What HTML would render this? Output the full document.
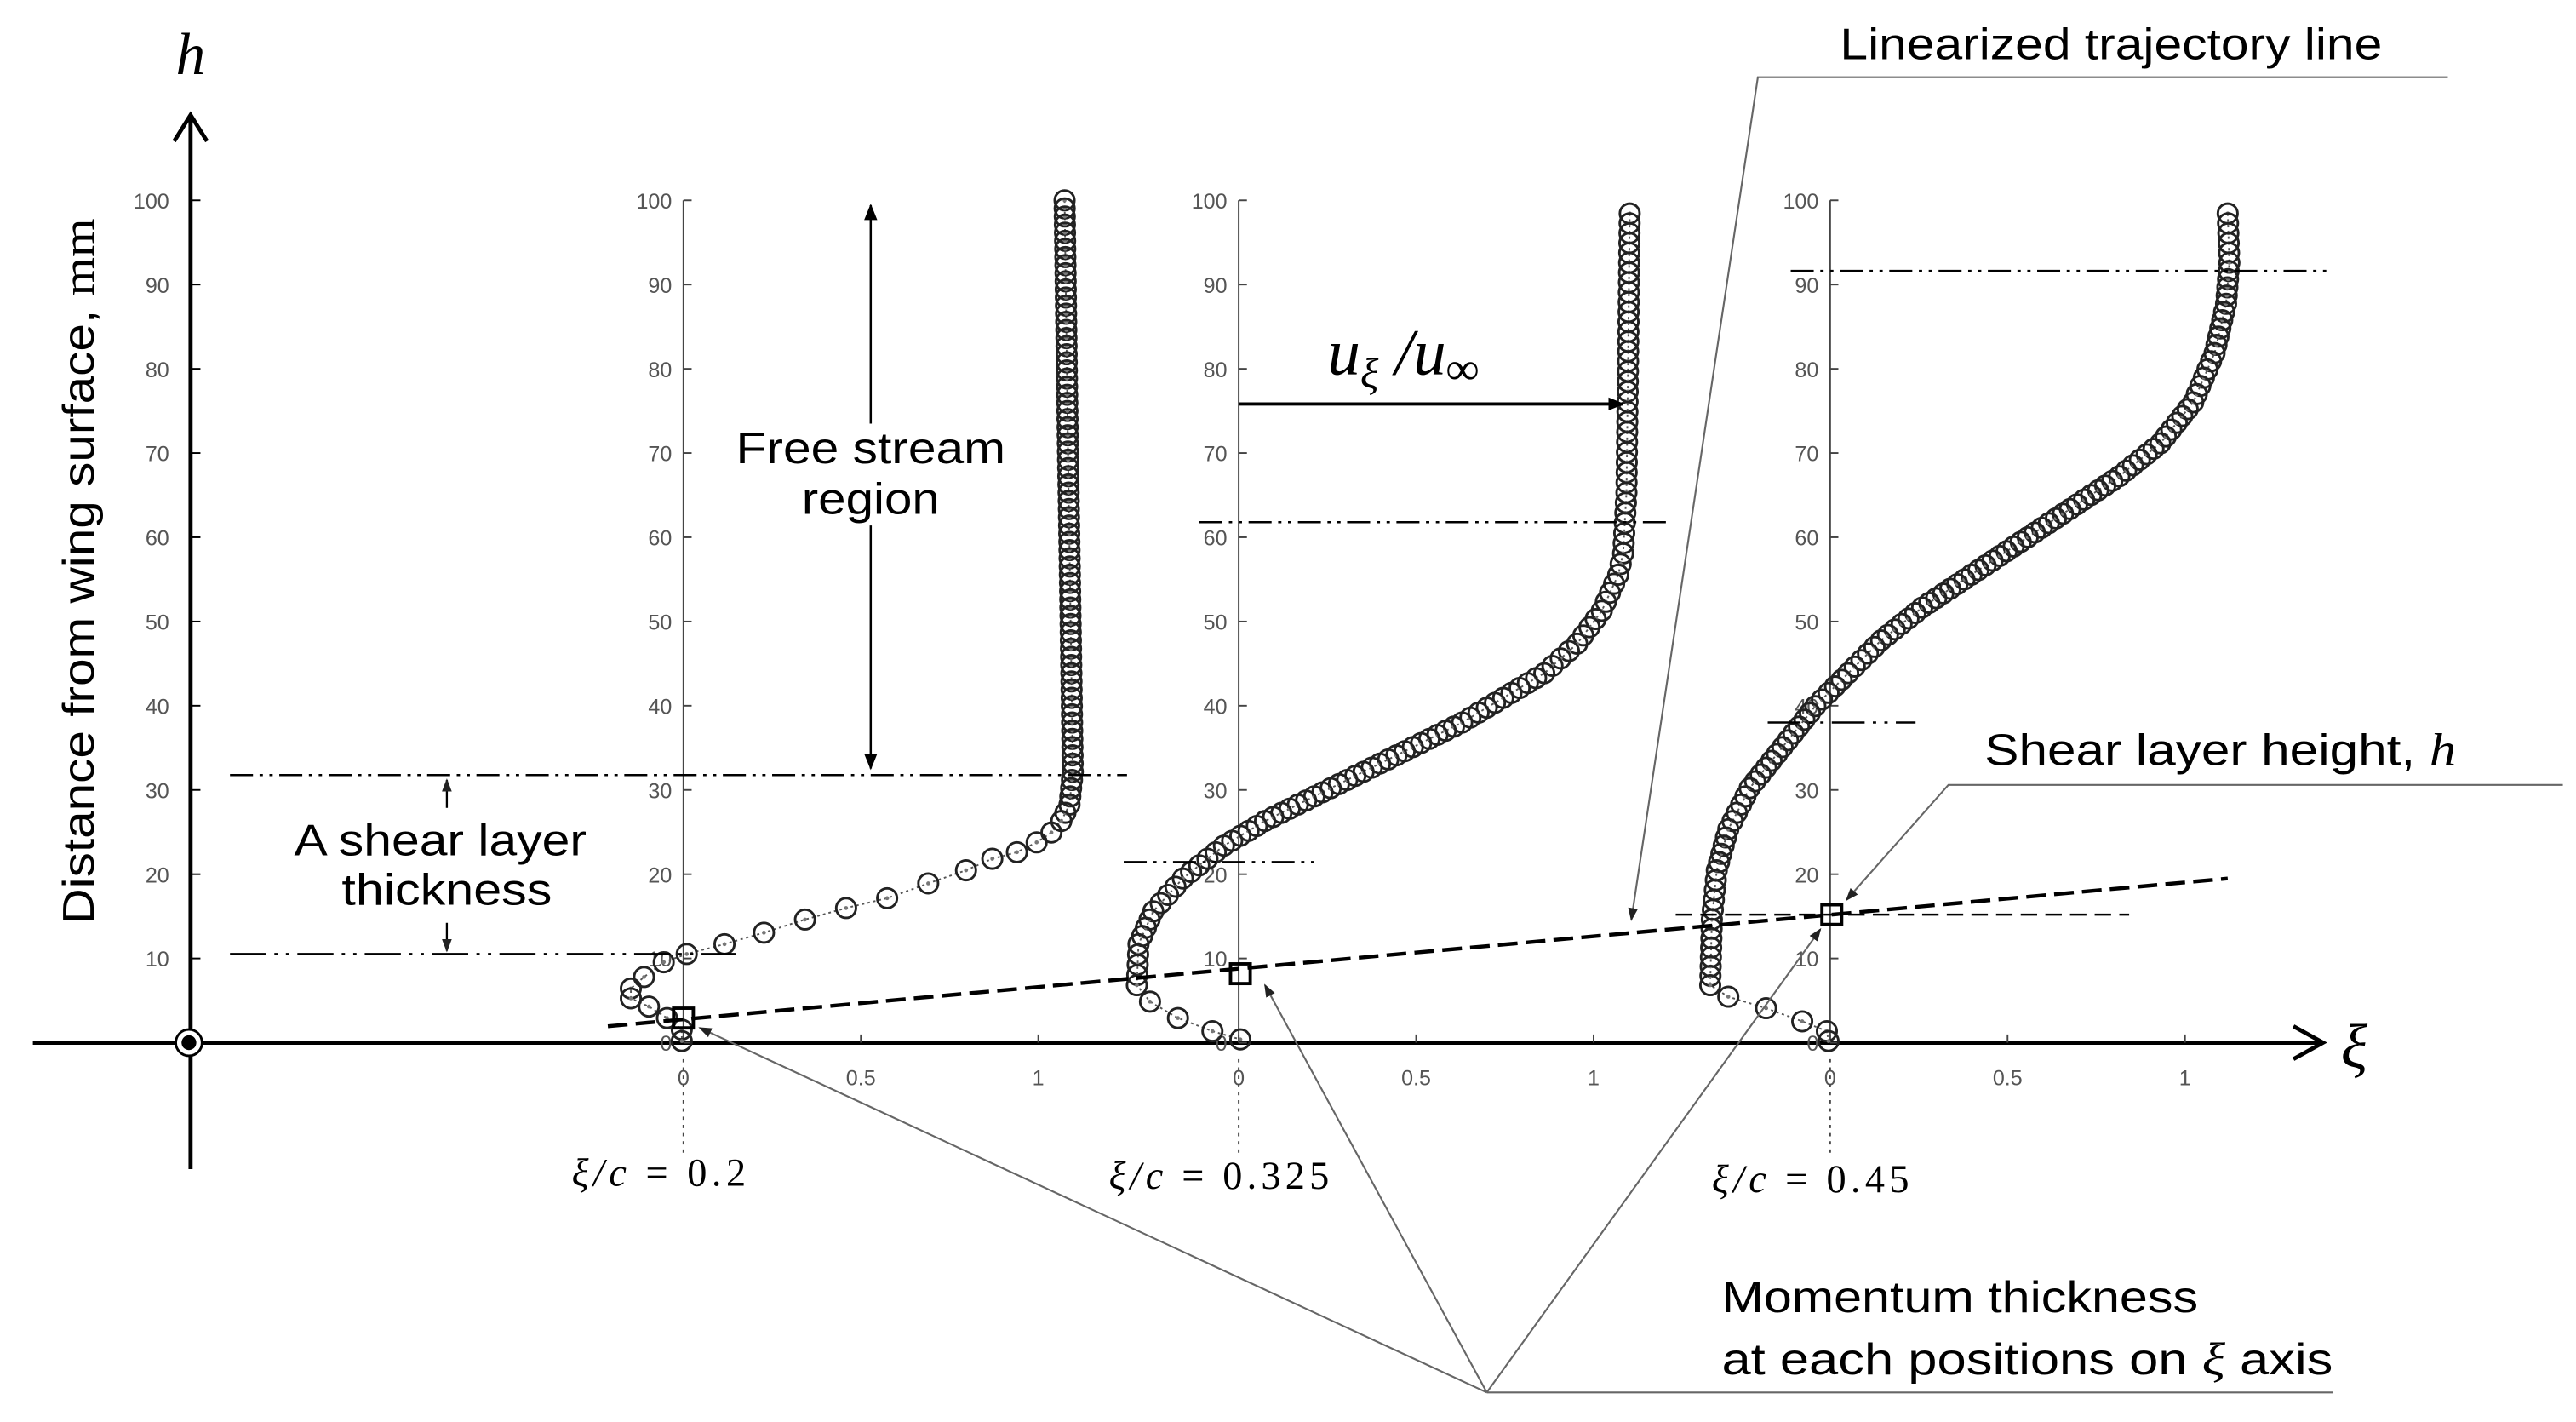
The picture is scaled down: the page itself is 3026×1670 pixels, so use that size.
<!DOCTYPE html>
<html><head><meta charset="utf-8"><style>
html,body{margin:0;padding:0;background:#fff;}
svg{display:block;}
text{font-family:"Liberation Sans",sans-serif;}
.t{font-size:13px;fill:#555;}
text.s,tspan.s{font-family:"Liberation Serif",serif;font-style:italic;}
text.ser{font-family:"Liberation Serif",serif;}
</style></head><body>
<svg id="g" width="3026" height="1670" viewBox="0 0 1568 866" preserveAspectRatio="none" xmlns="http://www.w3.org/2000/svg">
<defs>
<marker id="ah" markerWidth="10" markerHeight="10" refX="9" refY="5" orient="auto" markerUnits="userSpaceOnUse"><path d="M0,1 L10,5 L0,9 z" fill="#000"/></marker>
<marker id="ah2" markerWidth="8" markerHeight="8" refX="7" refY="4" orient="auto" markerUnits="userSpaceOnUse"><path d="M0,1 L8,4 L0,7 z" fill="#222"/></marker>
</defs>
<line x1="116" y1="712" x2="116" y2="72" stroke="#000" stroke-width="2.5"/>
<polyline points="106,86 116,70 126,86" fill="none" stroke="#000" stroke-width="2.5"/>
<line x1="20" y1="635" x2="1412" y2="635" stroke="#000" stroke-width="2.5"/>
<polyline points="1396,625 1414,635 1396,645" fill="none" stroke="#000" stroke-width="2.5"/>
<circle cx="115" cy="635" r="8" fill="#fff" stroke="#000" stroke-width="1.5"/>
<circle cx="115" cy="635" r="4.5" fill="#000"/>
<text x="116" y="45" class="s" font-size="36" text-anchor="middle">h</text>
<text x="1433" y="650" class="s" font-size="38" text-anchor="middle">ξ</text>
<text transform="translate(57,348) rotate(-90)" font-size="27" text-anchor="middle" textLength="430" lengthAdjust="spacingAndGlyphs">Distance from wing surface, <tspan style="font-family:'Liberation Serif',serif">mm</tspan></text>
<g id="dyn"></g>
<g stroke="#000" stroke-width="1.3" fill="none">
<line x1="140" y1="472" x2="686" y2="472" stroke-dasharray="14,4,2,4,2,4"/>
<line x1="140" y1="581" x2="448" y2="581" stroke-dasharray="22,5,2,5,2,5"/>
<line x1="730" y1="318" x2="1016" y2="318" stroke-dasharray="14,4,2,4,2,4"/>
<line x1="684" y1="525" x2="802" y2="525" stroke-dasharray="14,4,2,4,2,4"/>
<line x1="1090" y1="165" x2="1416" y2="165" stroke-dasharray="14,4,2,4,2,4"/>
<line x1="1076" y1="440" x2="1166" y2="440" stroke-dasharray="20,5,2,5,2,5"/>
<line x1="1020" y1="557" x2="1296" y2="557" stroke-dasharray="10,5"/>
<line x1="370" y1="625" x2="1356" y2="535" stroke-width="2.3" stroke-dasharray="12,5"/>
</g>
<g fill="none" stroke="#000" stroke-width="2">
<rect x="410" y="614" width="12" height="12"/>
<rect x="749" y="587" width="12" height="12"/>
<rect x="1109" y="551" width="12" height="12"/>
</g>
<line x1="530" y1="125" x2="530" y2="258" stroke="#000" stroke-width="1.3" marker-end="url(#ah)" transform="rotate(180 530 191.5)"/>
<line x1="530" y1="320" x2="530" y2="468" stroke="#000" stroke-width="1.3" marker-end="url(#ah)"/>
<text x="530" y="282" font-size="27" text-anchor="middle" textLength="164" lengthAdjust="spacingAndGlyphs">Free stream</text>
<text x="530" y="313" font-size="27" text-anchor="middle" textLength="84" lengthAdjust="spacingAndGlyphs">region</text>
<line x1="272" y1="492" x2="272" y2="475" stroke="#000" stroke-width="1.2" marker-end="url(#ah2)"/>
<line x1="272" y1="562" x2="272" y2="579" stroke="#000" stroke-width="1.2" marker-end="url(#ah2)"/>
<text x="268" y="521" font-size="27" text-anchor="middle" textLength="178" lengthAdjust="spacingAndGlyphs">A shear layer</text>
<text x="272" y="551" font-size="27" text-anchor="middle" textLength="128" lengthAdjust="spacingAndGlyphs">thickness</text>
<line x1="754" y1="246" x2="988" y2="246" stroke="#000" stroke-width="2" marker-end="url(#ah)"/>
<text x="808" y="228" class="s" font-size="40">u<tspan font-size="26" dy="8">ξ</tspan><tspan dy="-8"> /u</tspan><tspan font-size="28" dy="6">∞</tspan></text>
<g stroke="#666" stroke-width="1.1" fill="none">
<polyline points="1490,47 1070,47 993,560" marker-end="url(#ah2)"/>
<polyline points="1560,478 1186,478 1124,548" marker-end="url(#ah2)"/>
<line x1="905" y1="848" x2="1420" y2="848"/>
<line x1="905" y1="848" x2="426" y2="626" marker-end="url(#ah2)"/>
<line x1="905" y1="848" x2="770" y2="600" marker-end="url(#ah2)"/>
<line x1="905" y1="848" x2="1108" y2="566" marker-end="url(#ah2)"/>
</g>
<text x="1120" y="36" font-size="27" textLength="330" lengthAdjust="spacingAndGlyphs">Linearized trajectory line</text>
<text x="1208" y="466" font-size="27" textLength="287" lengthAdjust="spacingAndGlyphs">Shear layer height, <tspan class="s" font-size="28">h</tspan></text>
<text x="1048" y="799" font-size="27" textLength="290" lengthAdjust="spacingAndGlyphs">Momentum thickness</text>
<text x="1048" y="837" font-size="27" textLength="372" lengthAdjust="spacingAndGlyphs">at each positions on <tspan class="s" font-size="28">ξ</tspan> axis</text>
<text x="348" y="722" class="ser" font-size="24" textLength="106" lengthAdjust="spacing"><tspan class="s">ξ/c</tspan> = 0.2</text>
<text x="675" y="724" class="ser" font-size="24" textLength="134" lengthAdjust="spacing"><tspan class="s">ξ/c</tspan> = 0.325</text>
<text x="1042" y="726" class="ser" font-size="24" textLength="120" lengthAdjust="spacing"><tspan class="s">ξ/c</tspan> = 0.45</text>
</svg>
<script>
var NS="http://www.w3.org/2000/svg",g=document.getElementById("dyn");
function el(n,a){var e=document.createElementNS(NS,n);for(var k in a)e.setAttribute(k,a[k]);g.appendChild(e);return e;}
function tx(x,y,s,anc,cls){var e=el("text",{x:x,y:y,"text-anchor":anc,"class":cls});e.textContent=s;}
function Y(h){return 635-h*5.13;}
for(var h=10;h<=100;h+=10){tx(103,Y(h)+5,String(h),"end","t");el("line",{x1:116,y1:Y(h),x2:122,y2:Y(h),stroke:"#000","stroke-width":1});}
[416,754,1114].forEach(function(x0){
 el("line",{x1:x0,y1:122,x2:x0,y2:635,stroke:"#444","stroke-width":1});
 for(var h=0;h<=100;h+=10){tx(x0-7,Y(h)+5,String(h),"end","t");el("line",{x1:x0,y1:Y(h),x2:x0+5,y2:Y(h),stroke:"#444","stroke-width":1});}
 [[0,"0"],[0.5,"0.5"],[1,"1"]].forEach(function(p){var x=x0+p[0]*216;tx(x,661,p[1],"middle","t");el("line",{x1:x,y1:635,x2:x,y2:630,stroke:"#444","stroke-width":1});});
 el("line",{x1:x0,y1:645,x2:x0,y2:702,stroke:"#444","stroke-width":1,"stroke-dasharray":"2,3"});
});
function circ(x,y){el("circle",{cx:x,cy:y,r:6,fill:"none",stroke:"#222","stroke-width":1.5});el("circle",{cx:x,cy:y,r:1.2,fill:"#777"});}
function dense(pts,step){var out=[];for(var i=0;i<pts.length-1;i++){var a=pts[i],b=pts[i+1],d=Math.hypot(b[0]-a[0],b[1]-a[1]),n=Math.max(1,Math.round(d/step));for(var j=0;j<n;j++)out.push([a[0]+(b[0]-a[0])*j/n,a[1]+(b[1]-a[1])*j/n]);}out.push(pts[pts.length-1]);return out;}
function prof(d,s){var all=d.concat(s);el("polyline",{points:all.map(function(p){return p.join(",")}).join(" "),fill:"none",stroke:"#555","stroke-width":1,"stroke-dasharray":"1.5,2"});all.forEach(function(p){circ(p[0],p[1]);});}
prof(dense([[648,122],[650,270],[652,400],[653,470],[651,490],[646,500]],5),
 [[640,507],[631,513],[619,519],[604,523],[588,530],[565,538],[540,547],[515,553],[490,560],[465,568],[441,575],[418,581],[404,586],[392,595],[384,602],[384,608],[395,613],[406,620],[415,627],[415,634]]);
prof(dense([[992,130],[991,220],[990,300],[988,337],[985,350],[975,372],[960,392],[940,410],[915,425],[890,440],[860,455],[830,470],[800,485],[770,500],[745,515],[720,535],[702,555],[693,575],[692,600]],6),
 [[700,610],[717,620],[738,628],[755,633]]);
prof(dense([[1356,130],[1357,160],[1355,185],[1348,215],[1335,245],[1315,270],[1290,290],[1260,310],[1230,330],[1200,350],[1170,370],[1145,390],[1125,410],[1105,430],[1085,455],[1065,480],[1052,505],[1045,530],[1042,560],[1041,600]],5.5),
 [[1052,607],[1075,614],[1097,622],[1112,628],[1113,634]]);
</script>
</body></html>
